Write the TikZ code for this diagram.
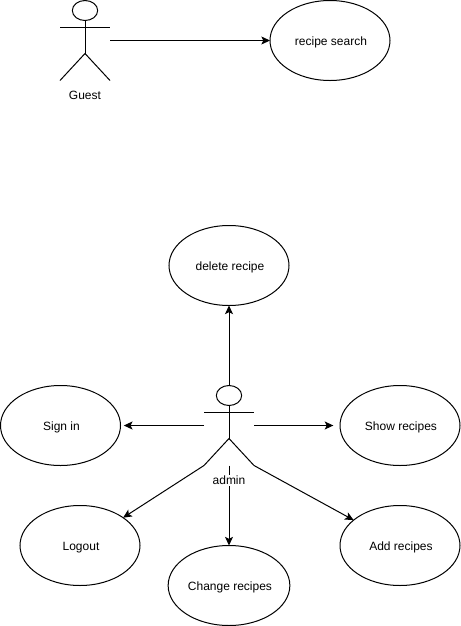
\documentclass[tikz,border=0pt]{standalone}
\usepackage{fontspec}
\setmainfont{Liberation Sans}
\usetikzlibrary{shapes.geometric,arrows.meta}

\tikzset{
    usecase/.style={draw,ellipse,minimum width=90pt,minimum height=60pt,inner sep=0pt,outer sep=0pt,text height=7pt,text depth=0.2pt,font=\fontsize{9pt}{11pt}\selectfont,execute at begin node={\hspace*{1.5pt}}},
    head/.style={draw,ellipse,minimum width=19pt,minimum height=15pt,inner sep=0pt,outer sep=0pt},
    actorlabel/.style={inner sep=1pt,font=\fontsize{9pt}{11pt}\selectfont},
    arrow/.style={-{Stealth[length=6.5pt,width=6pt,inset=1.5pt]}}
}

\begin{document}
\begin{tikzpicture}[x=0.75pt,y=-0.75pt,line width=0.75pt]
    \useasboundingbox (0,0) rectangle (461,626);

    \node[usecase] (Search) at (330,40.5) {recipe search};
    \node[usecase] (Delete) at (229,265.5) {delete recipe};
    \node[usecase] (Signin) at (60.5,425.5) {Sign in};
    \node[usecase] (Show) at (400,425.5) {Show recipes};
    \node[usecase] (Logout) at (80,545.5) {Logout};
    \node[usecase] (Change) at (229,585.5) {Change recipes};
    \node[usecase] (Add) at (400,545.5) {Add recipes};

    % Guest
    \node[head] (GuestHead) at (85,10.5) {};
    \coordinate (GuestHip) at (85,53.5);
    \coordinate (GuestHand) at (110,40.5);
    \draw (GuestHead) -- (GuestHip) (60,27.5) -- (110,27.5);
    \draw (60,80.5) -- (GuestHip) -- (110,80.5);
    \node[actorlabel] (Guest) at (85,95) {Guest};

    % Admin
    \node[head] (AdminHead) at (229,395.5) {};
    \coordinate (AdminHip) at (229,438.5);
    \coordinate (AdminLeft) at (204,465.5);
    \coordinate (AdminRight) at (254,465.5);
    \coordinate (AdminFoot) at (229,465.5);
    \coordinate (AdminHandL) at (204,425.5);
    \coordinate (AdminHandR) at (254,425.5);
    \draw (AdminHead) -- (AdminHip) (204,412.5) -- (254,412.5);
    \draw (AdminLeft) -- (AdminHip) -- (AdminRight);

    % Arrows
    \draw[arrow] (GuestHand) -- (Search);
    \draw[arrow] (AdminHead) -- (Delete);
    \draw[arrow,shorten >=2.5pt] (AdminHandL) -- (Signin);
    \draw[arrow,shorten >=5pt] (AdminHandR) -- (Show);
    \draw[arrow] (AdminLeft) -- (Logout);
    \draw[arrow] (AdminFoot) -- (Change);
    \draw[arrow] (AdminRight) -- (Add);

    \node[actorlabel,fill=white] (Admin) at (229,480.5) {admin};
\end{tikzpicture}
\end{document}
